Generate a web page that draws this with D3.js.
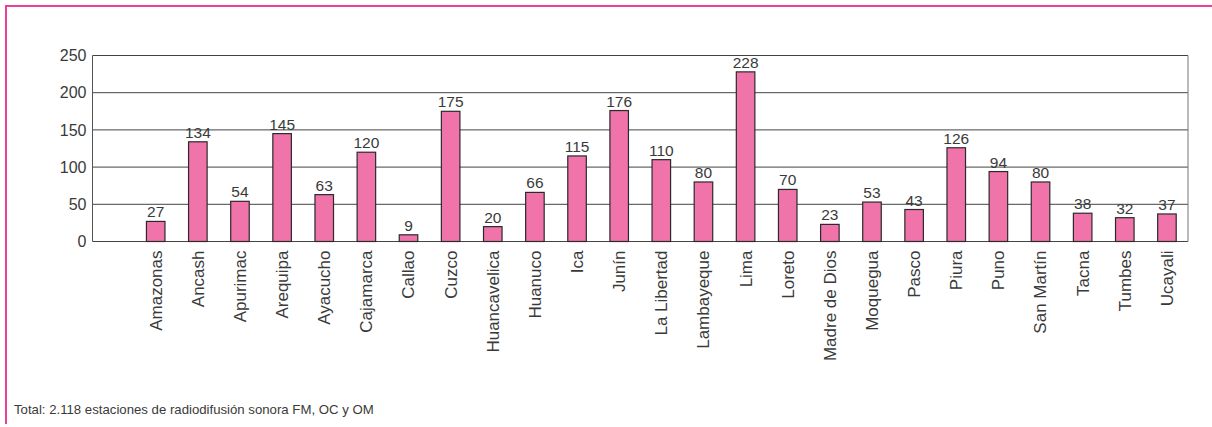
<!DOCTYPE html>
<html>
<head>
<meta charset="utf-8">
<script src="https://cdn.jsdelivr.net/npm/d3@7"></script>
<style>
  body { margin: 0; background: #fff; }
  text { font-family: "Liberation Sans", Arial, Helvetica, sans-serif; fill: #3a3a3a; }
</style>
</head>
<body>
<script>
var svgWidth = 1212;
var svgHeight = 427;

// data
var regions = ["Amazonas", "Ancash", "Apurimac", "Arequipa", "Ayacucho", "Cajamarca",
  "Callao", "Cuzco", "Huancavelica", "Huanuco", "Ica", "Junín", "La Libertad",
  "Lambayeque", "Lima", "Loreto", "Madre de Dios", "Moquegua", "Pasco", "Piura",
  "Puno", "San Martín", "Tacna", "Tumbes", "Ucayali"];
var stations = [27, 134, 54, 145, 63, 120, 9, 175, 20, 66, 115, 176, 110, 80, 228,
  70, 23, 53, 43, 126, 94, 80, 38, 32, 37];
var yTicks = [0, 50, 100, 150, 200, 250];
var footnote = "Total: 2.118 estaciones de radiodifusión sonora FM, OC y OM";

var margin = { top: 55.5, right: 24, bottom: 185.5, left: 92.5 };
var width = svgWidth - margin.left - margin.right;
var height = svgHeight - margin.top - margin.bottom;

var data = regions.map(function(r, i) { return { region: r, value: stations[i] }; });

var svg = d3.select("body")
  .append("svg")
  .attr("width", svgWidth)
  .attr("height", svgHeight);

// pink frame (top and left only)
svg.append("path")
  .attr("d", "M6,424 V6 H1212")
  .attr("fill", "none")
  .attr("stroke", "#ec3f9c")
  .attr("stroke-width", 2);

var chartGroup = svg.append("g")
  .attr("transform", `translate(${margin.left}, ${margin.top})`);

// first slot is left empty in the original
var xBandScale = d3.scaleBand()
  .domain([""].concat(regions))
  .range([0, width])
  .paddingInner(0.56)
  .paddingOuter(0.28);

var yLinearScale = d3.scaleLinear()
  .domain([0, 250])
  .range([height, 0]);

// gridlines
chartGroup.append("g")
  .selectAll("line")
  .data(yTicks)
  .enter()
  .append("line")
  .attr("x1", 0)
  .attr("x2", width)
  .attr("y1", d => yLinearScale(d))
  .attr("y2", d => yLinearScale(d))
  .attr("stroke", "#444")
  .attr("stroke-width", 1);

// side lines of the plot box
chartGroup.append("line")
  .attr("x1", 0).attr("x2", 0)
  .attr("y1", 0).attr("y2", height)
  .attr("stroke", "#555");
chartGroup.append("line")
  .attr("x1", width).attr("x2", width)
  .attr("y1", 0).attr("y2", height)
  .attr("stroke", "#777");

// y axis labels
var leftAxis = d3.axisLeft(yLinearScale)
  .tickValues(yTicks)
  .tickSize(0)
  .tickPadding(6);
var yAxis = chartGroup.append("g").call(leftAxis);
yAxis.select(".domain").remove();
yAxis.selectAll("text")
  .attr("font-size", "16px")
  .attr("font-family", "'Liberation Sans', Arial, sans-serif")
  .attr("fill", "#3a3a3a");

// bars
chartGroup.selectAll("rect.bar")
  .data(data)
  .enter()
  .append("rect")
  .attr("class", "bar")
  .attr("x", d => xBandScale(d.region))
  .attr("y", d => yLinearScale(d.value))
  .attr("width", xBandScale.bandwidth())
  .attr("height", d => height - yLinearScale(d.value))
  .attr("fill", "#f073a9")
  .attr("stroke", "#2a2a2a")
  .attr("stroke-width", 1.2);

// value labels
chartGroup.selectAll("text.value")
  .data(data)
  .enter()
  .append("text")
  .attr("class", "value")
  .attr("x", d => xBandScale(d.region) + xBandScale.bandwidth() / 2)
  .attr("y", d => yLinearScale(d.value) - 4)
  .attr("text-anchor", "middle")
  .attr("font-size", "15.5px")
  .text(d => d.value);

// x axis labels, rotated
var bottomAxis = d3.axisBottom(xBandScale).tickSize(0).tickPadding(0);
var xAxis = chartGroup.append("g")
  .attr("transform", `translate(0, ${height})`)
  .call(bottomAxis);
xAxis.select(".domain").remove();
xAxis.selectAll("text")
  .attr("font-size", "17px")
  .attr("font-family", "'Liberation Sans', Arial, sans-serif")
  .attr("fill", "#3a3a3a")
  .attr("text-anchor", "end")
  .attr("transform", "rotate(-90)")
  .attr("x", -9)
  .attr("y", 0)
  .attr("dy", "0.35em");

// footnote
svg.append("text")
  .attr("x", 14)
  .attr("y", 414)
  .attr("font-size", "13.2px")
  .text(footnote);
</script>
</body>
</html>
